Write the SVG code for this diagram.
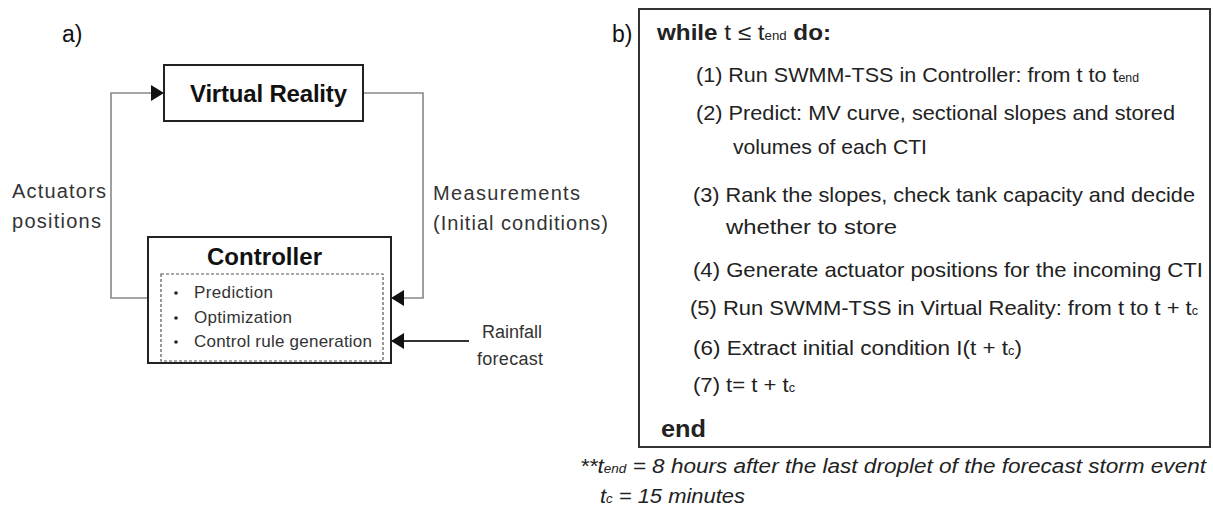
<svg xmlns="http://www.w3.org/2000/svg" width="1213" height="511" viewBox="0 0 1213 511">
<style>
text{font-family:"Liberation Sans",Arial,sans-serif;fill:#222}
.lbl{font-size:20px;fill:#333}
.bul{font-size:17px;fill:#333}
.ttl{font-size:24px;font-weight:bold;fill:#111}
.step{font-size:21px;fill:#222}
.foot{font-size:20px;font-style:italic;fill:#222}
.sub{font-size:12px}
.box{fill:#fff;stroke:#222;stroke-width:2}
.conn{fill:none;stroke:#888;stroke-width:1.6}
.conn2{fill:none;stroke:#333;stroke-width:2}
</style>
<defs>
<marker id="ah" markerWidth="14" markerHeight="16" refX="13" refY="8" orient="auto" markerUnits="userSpaceOnUse">
<path d="M0,0 L13,8 L0,16 Z" fill="#111"/>
</marker>
</defs>
<rect width="1213" height="511" fill="#fff"/>

<text x="62" y="42" style="font-size:23px;fill:#111">a)</text>

<g id="connectors">
<polyline class="conn" points="148,298 111,298 111,93 164,93" marker-end="url(#ah)"/>
<polyline class="conn" points="363,93 423,93 423,298 391,298" marker-end="url(#ah)"/>
<polyline class="conn2" points="469,341 391,341" marker-end="url(#ah)"/>
<text class="lbl" x="12" y="198" textLength="94">Actuators</text>
<text class="lbl" x="12" y="228" textLength="89">positions</text>
<text class="lbl" x="433" y="200" textLength="147">Measurements</text>
<text class="lbl" x="433" y="230" textLength="175">(Initial conditions)</text>
<text class="lbl" x="482" y="338" style="font-size:18px" textLength="60">Rainfall</text>
<text class="lbl" x="477" y="365" style="font-size:18px" textLength="66">forecast</text>
</g>

<g id="virtual-reality">
<rect class="box" x="164" y="65" width="199" height="56"/>
<text class="ttl" x="190" y="102" textLength="157">Virtual Reality</text>
</g>

<g id="controller">
<rect class="box" x="148" y="237" width="243" height="126"/>
<text class="ttl" x="207" y="265" textLength="115">Controller</text>
<rect x="161" y="274" width="222" height="87" fill="none" stroke="#555" stroke-width="1.2" stroke-dasharray="3 2"/>
<circle cx="176" cy="293" r="1.8" fill="#222"/>
<circle cx="176" cy="318" r="1.8" fill="#222"/>
<circle cx="176" cy="342" r="1.8" fill="#222"/>
<text class="bul" x="194" y="298" textLength="79">Prediction</text>
<text class="bul" x="194" y="323" textLength="98">Optimization</text>
<text class="bul" x="194" y="347" textLength="178">Control rule generation</text>
</g>

<g id="algorithm">
<text x="612" y="42" style="font-size:23px;fill:#111">b)</text>
<rect x="639" y="9" width="571" height="438" fill="#fff" stroke="#333" stroke-width="2"/>
<text x="657" y="40" style="font-size:22px" textLength="174" lengthAdjust="spacingAndGlyphs"><tspan font-weight="bold">while</tspan> t ≤ t<tspan class="sub">end</tspan> <tspan font-weight="bold">do:</tspan></text>
<text class="step" x="696" y="82" textLength="443" lengthAdjust="spacingAndGlyphs">(1) Run SWMM-TSS in Controller: from t to t<tspan class="sub">end</tspan></text>
<text class="step" x="696" y="120" textLength="479" lengthAdjust="spacingAndGlyphs">(2) Predict: MV curve, sectional slopes and stored</text>
<text class="step" x="733" y="154" textLength="194" lengthAdjust="spacingAndGlyphs">volumes of each CTI</text>
<text class="step" x="693" y="202" textLength="502" lengthAdjust="spacingAndGlyphs">(3) Rank the slopes, check tank capacity and decide</text>
<text class="step" x="726" y="234" textLength="171" lengthAdjust="spacingAndGlyphs">whether to store</text>
<text class="step" x="693" y="277" textLength="510" lengthAdjust="spacingAndGlyphs">(4) Generate actuator positions for the  incoming CTI</text>
<text class="step" x="690" y="315" textLength="508" lengthAdjust="spacingAndGlyphs">(5) Run SWMM-TSS in Virtual Reality: from t to t + t<tspan class="sub">c</tspan></text>
<text class="step" x="693" y="355" textLength="329" lengthAdjust="spacingAndGlyphs">(6) Extract initial condition I(t + t<tspan class="sub">c</tspan>)</text>
<text class="step" x="693" y="392" textLength="102" lengthAdjust="spacingAndGlyphs">(7) t= t + t<tspan class="sub">c</tspan></text>
<text x="661" y="437" style="font-size:23px;font-weight:bold" textLength="45" lengthAdjust="spacingAndGlyphs">end</text>
</g>

<g id="footnote">
<text class="foot" x="580" y="473" textLength="626" lengthAdjust="spacingAndGlyphs">**t<tspan class="sub">end</tspan> = 8 hours after the  last droplet of the forecast storm event</text>
<text class="foot" x="600" y="503" textLength="145" lengthAdjust="spacingAndGlyphs">t<tspan class="sub">c</tspan> = 15 minutes</text>
</g>
</svg>
